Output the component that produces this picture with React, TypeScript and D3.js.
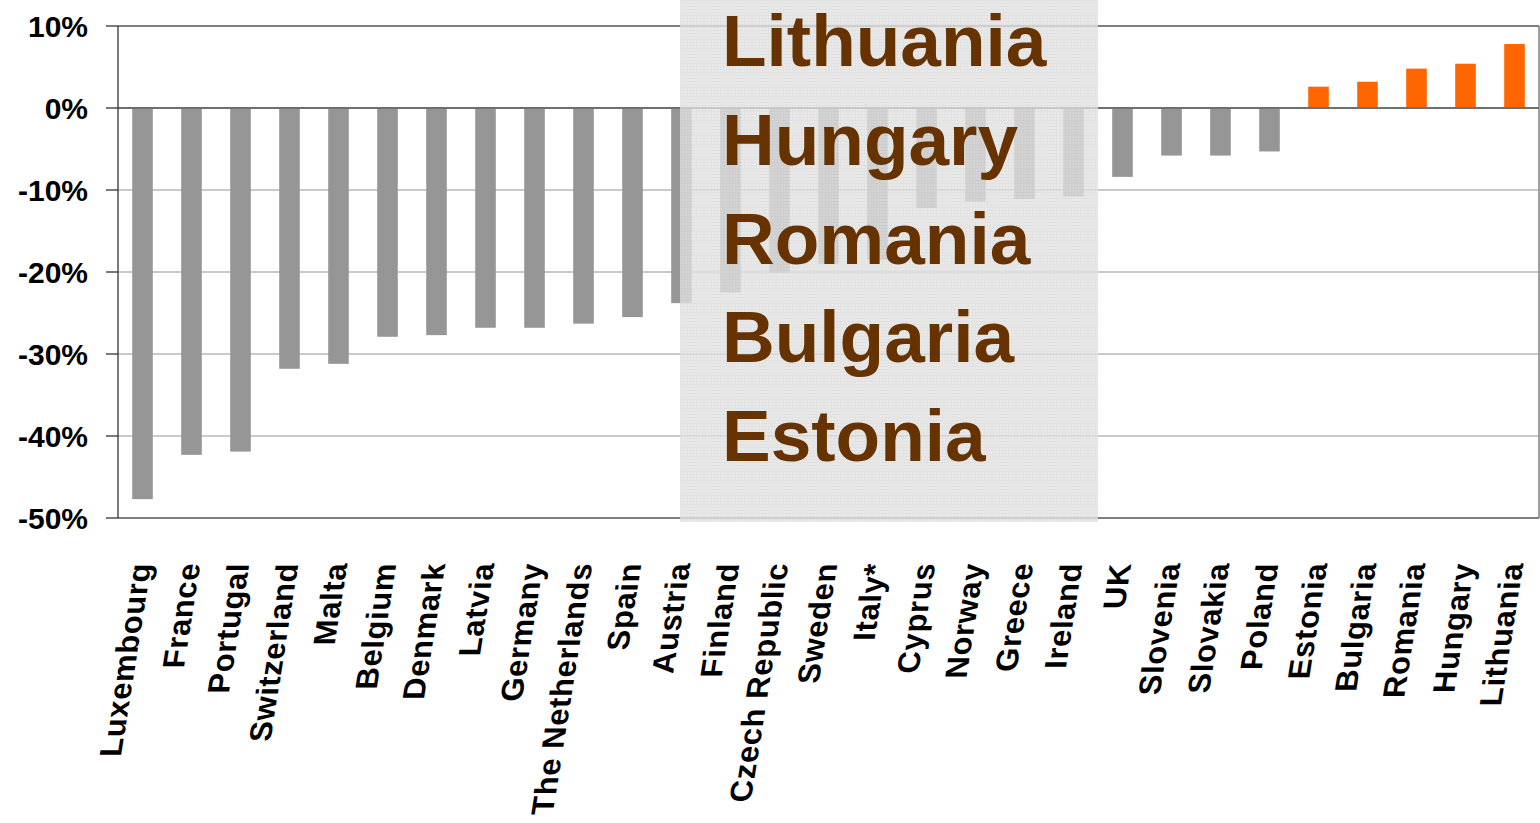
import React from "react";
import * as d3 from "d3";

const categories = [
  "Luxembourg", "France", "Portugal", "Switzerland", "Malta", "Belgium", "Denmark",
  "Latvia", "Germany", "The Netherlands", "Spain", "Austria", "Finland", "Czech Republic",
  "Sweden", "Italy*", "Cyprus", "Norway", "Greece", "Ireland", "UK", "Slovenia",
  "Slovakia", "Poland", "Estonia", "Bulgaria", "Romania", "Hungary", "Lithuania",
];
const values = [
  -47.7, -42.3, -41.9, -31.8, -31.2, -27.9, -27.7, -26.8, -26.8, -26.3, -25.5, -23.8,
  -22.5, -20.1, -19.0, -18.5, -12.2, -11.4, -11.1, -10.8, -8.4, -5.8, -5.8, -5.3,
  2.6, 3.2, 4.8, 5.4, 7.8,
];
const yTicks = [10, 0, -10, -20, -30, -40, -50];
const highlighted = ["Lithuania", "Hungary", "Romania", "Bulgaria", "Estonia"];

const W = 1540;
const H = 823;
const left = 118;
const right = 1539;
const top = 26;
const bottom = 518;
const FONT = "'Liberation Sans', Arial, Helvetica, sans-serif";

export default function App() {
  const x = d3
    .scaleBand<string>()
    .domain(categories)
    .range([left, right])
    .paddingInner(0.58)
    .paddingOuter(0.29);
  const y = d3.scaleLinear().domain([-50, 10]).range([bottom, top]);

  const ovX0 = 680;
  const ovX1 = 1098;
  const ovY1 = 522;

  return (
    <svg
      width={W}
      height={H}
      style={{ position: "absolute", left: 0, top: 0, background: "#fff" }}
      fontFamily={FONT}
    >
      <defs>
        <pattern id="tex" width={3} height={3} patternUnits="userSpaceOnUse">
          <rect width={3} height={3} fill="#e4e4e4" />
          <rect width={3} height={1} fill="#d9d9d9" />
          <rect width={1} height={3} fill="#dcdcdc" />
        </pattern>
      </defs>
      <rect x={0} y={0} width={W} height={H} fill="#fff" />
      {yTicks.map((t) => {
        const strong = t === 10 || t === 0 || t === -50;
        return (
          <line
            key={"g" + t}
            x1={left}
            x2={right}
            y1={y(t)}
            y2={y(t)}
            stroke={strong ? "#7f7f7f" : "#b8b8b8"}
            strokeWidth={strong ? 2 : 1.5}
          />
        );
      })}
      <line x1={right} x2={right} y1={y(10)} y2={y(-50)} stroke="#7f7f7f" strokeWidth={1.5} />
      {categories.map((c, i) => {
        const v = values[i];
        const y0 = y(0);
        const yv = y(v);
        return (
          <rect
            key={c}
            x={x(c)}
            width={x.bandwidth()}
            y={Math.min(y0, yv)}
            height={Math.abs(yv - y0)}
            fill={v > 0 ? "#ff6600" : "#969696"}
          />
        );
      })}
      <line x1={left} x2={right} y1={y(0)} y2={y(0)} stroke="#6f6f6f" strokeWidth={2} />
      <line x1={left} x2={left} y1={y(10)} y2={y(-50)} stroke="#333" strokeWidth={1.3} />
      {yTicks.map((t) => (
        <g key={"t" + t}>
          <line x1={left - 12} x2={left} y1={y(t)} y2={y(t)} stroke="#333" strokeWidth={1.3} />
          <text
            x={88}
            y={y(t)}
            dy="0.36em"
            textAnchor="end"
            fontWeight="bold"
            fontSize={30}
            fill="#000"
          >
            {t + "%"}
          </text>
        </g>
      ))}
      {categories.map((c) => {
        const cx = (x(c) as number) + x.bandwidth() / 2;
        return (
          <text
            key={"l" + c}
            transform={`translate(${cx + 9},${563}) skewX(-9) rotate(-90)`}
            textAnchor="end"
            fontWeight="bold"
            fontSize={31}
            letterSpacing={0.6}
            fill="#000"
          >
            {c}
          </text>
        );
      })}
      <rect x={ovX0} y={0} width={ovX1 - ovX0} height={ovY1} fill="url(#tex)" opacity={0.8} />
      {highlighted.map((h, i) => (
        <text
          key={"h" + h}
          x={722}
          y={66 + i * 98.8}
          fontWeight="bold"
          fontSize={73}
          fill="#663300"
        >
          {h}
        </text>
      ))}
    </svg>
  );
}
